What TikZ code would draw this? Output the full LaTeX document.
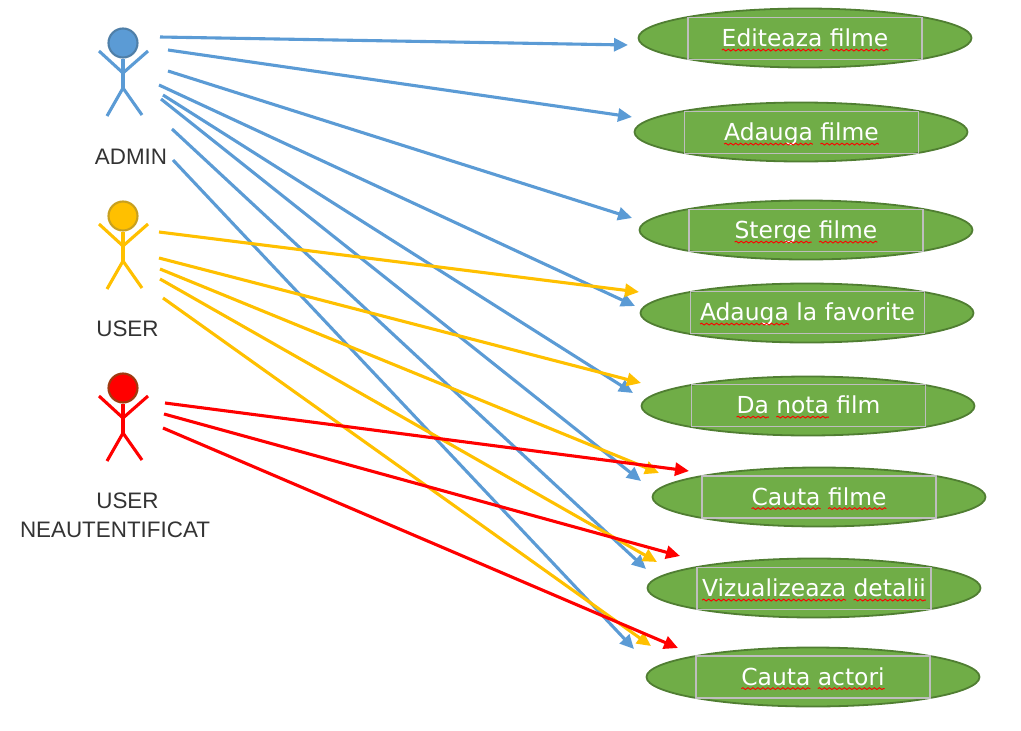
\documentclass[tikz,border=0pt]{standalone}
\usepackage{fontspec}
\setmainfont{Liberation Sans}
\newfontfamily\casefont{DejaVu Sans}
\usetikzlibrary{arrows.meta,shapes.geometric,decorations.pathmorphing}
\definecolor{cblue}{HTML}{5B9BD5}
\definecolor{cblued}{HTML}{4F7FA8}
\definecolor{cyel}{HTML}{FFC000}
\definecolor{cyeld}{HTML}{C8A020}
\definecolor{cred}{HTML}{FF0000}
\definecolor{credd}{HTML}{A03A10}
\definecolor{cgreen}{HTML}{70AD47}
\definecolor{cgreend}{HTML}{507E32}
\definecolor{txt}{HTML}{333333}
\definecolor{lblgray}{HTML}{BEBEBE}
\newcommand\sq[1]{\setbox0=\hbox{#1}\edef\sqw{\the\wd0}\rlap{\box0}\begin{tikzpicture}[overlay,baseline=0pt,x=1pt,y=1pt]\draw[red,line width=0.9pt,decorate,decoration={snake,amplitude=0.9pt,segment length=5pt}] (0,-3.6) -- (\sqw,-3.6);\end{tikzpicture}\kern\sqw\relax}
\tikzset{
  casenode/.style={ellipse,draw=cgreend,line width=1.8pt,fill=cgreen,minimum width=333pt,minimum height=59pt,inner sep=0pt},
  lblnode/.style={draw=lblgray,line width=1.1pt,minimum width=234pt,minimum height=42pt,inner sep=0pt,text=white,text height=20.5pt,text depth=4.5pt,font=\casefont\fontsize{23.4}{28}\selectfont},
  connline/.style={line width=3.1pt,-{Triangle[length=14pt,width=13pt]}},
  actorline/.style={line width=3.1pt},
  headnode/.style={circle,minimum size=29pt,inner sep=0pt,line width=2.1pt},
  capnode/.style={text=txt,font=\fontsize{22.4}{29}\selectfont,align=center,inner sep=0pt},
}
\newcommand\stick[5]{%
  \node[headnode,draw=#3,fill=#4] (#5h) at (#1,#2) {};
  \coordinate (#5n) at (#1,#2+30);
  \coordinate (#5c) at (#1,#2+45);
  \coordinate (#5l) at (#1-24,#2+8);
  \coordinate (#5r) at (#1+25,#2+8);
  \coordinate (#5f) at (#1-16,#2+73);
  \coordinate (#5g) at (#1+19,#2+72);
  \draw[actorline,#4] (#5h.south) -- (#5c);
  \draw[actorline,#4] (#5l) -- (#5n) -- (#5r);
  \draw[actorline,#4] (#5f) -- (#5c) -- (#5g);
}
\newcommand\usecase[6]{%
  \node[casenode] (#1) at (#2,#3) {};
  \node[lblnode] (#1t) at (#4,#5) {#6};
}
\newcommand\link[6]{%
  \coordinate (s#1) at (#3,#4);
  \coordinate (e#1) at (#5,#6);
  \draw[connline,#2] (s#1) -- (e#1);
}
\begin{document}
\begin{tikzpicture}[x=1pt,y=-1pt]
\useasboundingbox (0,0) rectangle (1021,731);
\usecase{a}{805}{38}{805}{38.5}{\sq{Editeaza} \sq{filme}}
\usecase{b}{801}{132}{801.5}{132.5}{\sq{Adauga} \sq{filme}}
\usecase{c}{806}{230}{806}{230.5}{\sq{Sterge} \sq{filme}}
\usecase{d}{807}{313}{807.5}{312.5}{\sq{Adauga} la favorite}
\usecase{e}{808}{406}{808.5}{405.5}{\sq{Da} \sq{nota} film}
\usecase{f}{819}{497}{819}{497}{\sq{Cauta} \sq{filme}}
\usecase{g}{814}{588}{814}{588.5}{\sq{Vizualizeaza} \sq{detalii}}
\usecase{h}{813}{677}{813}{677}{\sq{Cauta} \sq{actori}}
\stick{123}{43}{cblued}{cblue}{A}
\stick{123}{216}{cyeld}{cyel}{U}
\stick{123}{388}{credd}{cred}{N}
\node[capnode] (la) at (131,156.5) {ADMIN};
\node[capnode] (lu) at (127.5,328.5) {USER};
\node[capnode] (ln) at (115,515) {\hspace*{25pt}USER\\NEAUTENTIFICAT};
\link{b1}{cblue}{160}{37}{628}{45}
\link{b2}{cblue}{168}{50}{632}{117}
\link{b3}{cblue}{168}{71}{632}{218}
\link{b4}{cblue}{159}{85}{635}{306}
\link{b5}{cblue}{163}{95}{633}{393}
\link{b6}{cblue}{161}{99}{641}{481}
\link{b7}{cblue}{172}{129}{646}{569}
\link{b8}{cblue}{173}{160}{634}{649}
\link{y1}{cyel}{159}{232}{639}{292}
\link{y2}{cyel}{159}{258}{641}{383}
\link{y3}{cyel}{160}{269}{659}{473}
\link{y4}{cyel}{160}{279}{657}{562}
\link{y5}{cyel}{163}{298}{651}{646}
\link{r1}{cred}{165}{403}{689}{471}
\link{r2}{cred}{164}{414}{680}{556}
\link{r3}{cred}{163}{428}{678}{648}
\end{tikzpicture}
\end{document}
